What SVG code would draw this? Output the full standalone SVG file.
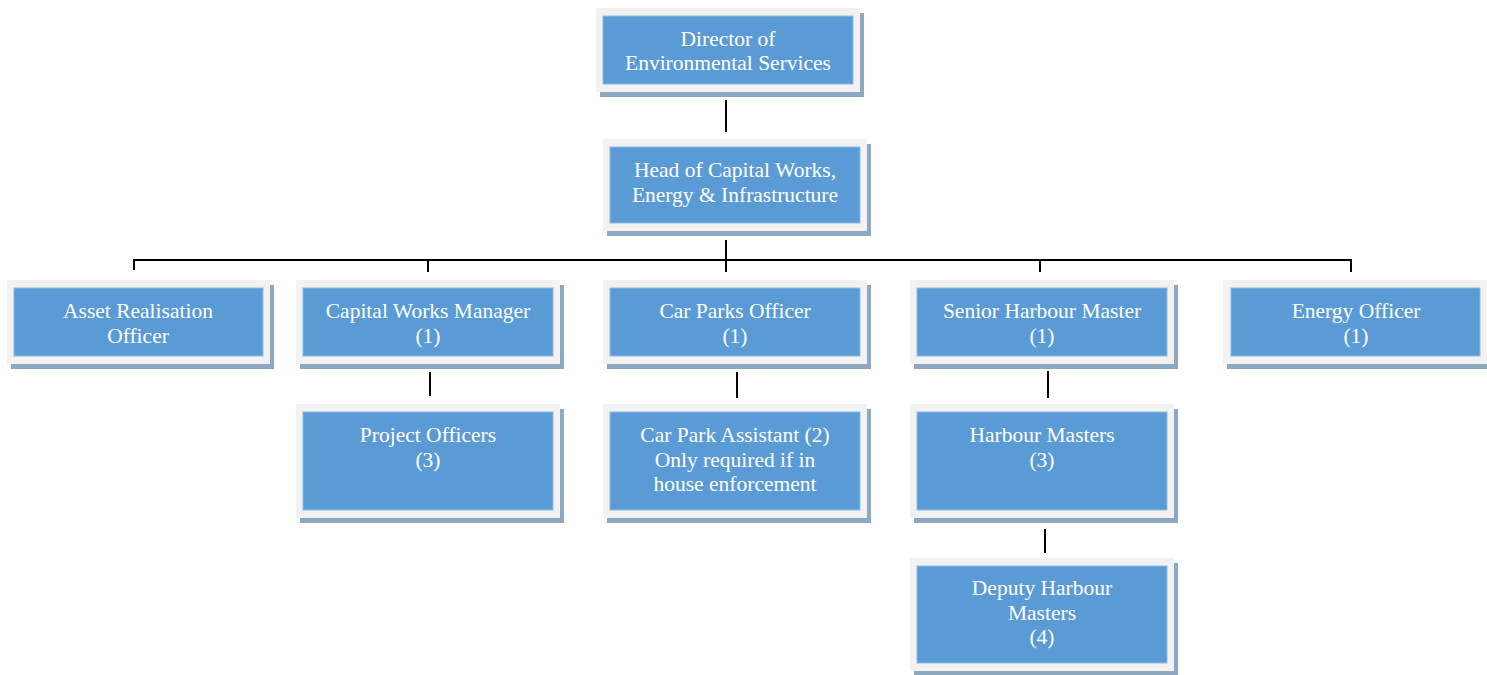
<svg xmlns="http://www.w3.org/2000/svg" width="1487" height="675" viewBox="0 0 1487 675">
  <style>
    .shadow { fill: #8fa8c2; }
    .frame { fill: #f2f2f2; }
    .box { fill: #5b9bd5; stroke: #8dbbe4; stroke-width: 1; }
    .label { font-family: "Liberation Serif", "Times New Roman", serif; font-size: 21.5px; fill: #ffffff; text-anchor: middle; }
    .conn { stroke: #000000; stroke-width: 2; fill: none; }
  </style>

  <!-- connectors -->
  <g id="connectors">
    <line class="conn" x1="726" y1="100" x2="726" y2="132"/>
    <line class="conn" x1="726" y1="240" x2="726" y2="272"/>
    <polyline class="conn" points="134,270 134,260 1351,260 1351,272"/>
    <line class="conn" x1="428" y1="260" x2="428" y2="272"/>
    <line class="conn" x1="1040" y1="260" x2="1040" y2="272"/>
    <line class="conn" x1="430" y1="372" x2="430" y2="396"/>
    <line class="conn" x1="737" y1="372" x2="737" y2="398"/>
    <line class="conn" x1="1048" y1="371" x2="1048" y2="398"/>
    <line class="conn" x1="1045" y1="529" x2="1045" y2="553"/>
  </g>

  <!-- Director -->
  <g id="director">
    <rect class="shadow" x="600" y="13" width="264" height="84"/>
    <rect class="frame" x="596" y="8" width="264" height="84"/>
    <rect class="box" x="603" y="16" width="250" height="68"/>
    <text class="label" x="728" y="46">Director of</text>
    <text class="label" x="728" y="70">Environmental Services</text>
  </g>

  <!-- Head of Capital Works -->
  <g id="head">
    <rect class="shadow" x="607" y="144" width="264" height="92"/>
    <rect class="frame" x="603" y="139" width="264" height="92"/>
    <rect class="box" x="610" y="147" width="250" height="76"/>
    <text class="label" x="735" y="177">Head of Capital Works,</text>
    <text class="label" x="735" y="202">Energy &amp; Infrastructure</text>
  </g>

  <!-- Asset Realisation Officer -->
  <g id="asset">
    <rect class="shadow" x="11" y="285" width="263" height="84"/>
    <rect class="frame" x="7" y="280" width="263" height="84"/>
    <rect class="box" x="14" y="288" width="249" height="68"/>
    <text class="label" x="138" y="318">Asset Realisation</text>
    <text class="label" x="138" y="343">Officer</text>
  </g>

  <!-- Capital Works Manager -->
  <g id="capital-works">
    <rect class="shadow" x="300" y="285" width="264" height="84"/>
    <rect class="frame" x="296" y="280" width="264" height="84"/>
    <rect class="box" x="303" y="288" width="250" height="68"/>
    <text class="label" x="428" y="318">Capital Works Manager</text>
    <text class="label" x="428" y="343">(1)</text>
  </g>

  <!-- Car Parks Officer -->
  <g id="car-parks">
    <rect class="shadow" x="607" y="285" width="264" height="84"/>
    <rect class="frame" x="603" y="280" width="264" height="84"/>
    <rect class="box" x="610" y="288" width="250" height="68"/>
    <text class="label" x="735" y="318">Car Parks Officer</text>
    <text class="label" x="735" y="343">(1)</text>
  </g>

  <!-- Senior Harbour Master -->
  <g id="senior-harbour">
    <rect class="shadow" x="914" y="285" width="264" height="84"/>
    <rect class="frame" x="910" y="280" width="264" height="84"/>
    <rect class="box" x="917" y="288" width="250" height="68"/>
    <text class="label" x="1042" y="318">Senior Harbour Master</text>
    <text class="label" x="1042" y="343">(1)</text>
  </g>

  <!-- Energy Officer -->
  <g id="energy">
    <rect class="shadow" x="1227" y="285" width="264" height="84"/>
    <rect class="frame" x="1223" y="280" width="264" height="84"/>
    <rect class="box" x="1231" y="288" width="249" height="68"/>
    <text class="label" x="1356" y="318">Energy Officer</text>
    <text class="label" x="1356" y="343">(1)</text>
  </g>

  <!-- Project Officers -->
  <g id="project-officers">
    <rect class="shadow" x="300" y="409" width="264" height="114"/>
    <rect class="frame" x="296" y="404" width="264" height="114"/>
    <rect class="box" x="303" y="412" width="250" height="98"/>
    <text class="label" x="428" y="442">Project Officers</text>
    <text class="label" x="428" y="467">(3)</text>
  </g>

  <!-- Car Park Assistant -->
  <g id="car-park-assistant">
    <rect class="shadow" x="607" y="409" width="264" height="114"/>
    <rect class="frame" x="603" y="404" width="264" height="114"/>
    <rect class="box" x="610" y="412" width="250" height="98"/>
    <text class="label" x="735" y="442">Car Park Assistant (2)</text>
    <text class="label" x="735" y="467">Only required if in</text>
    <text class="label" x="735" y="491">house enforcement</text>
  </g>

  <!-- Harbour Masters -->
  <g id="harbour-masters">
    <rect class="shadow" x="914" y="409" width="264" height="114"/>
    <rect class="frame" x="910" y="404" width="264" height="114"/>
    <rect class="box" x="917" y="412" width="250" height="98"/>
    <text class="label" x="1042" y="442">Harbour Masters</text>
    <text class="label" x="1042" y="467">(3)</text>
  </g>

  <!-- Deputy Harbour Masters -->
  <g id="deputy-harbour-masters">
    <rect class="shadow" x="914" y="563" width="264" height="113"/>
    <rect class="frame" x="910" y="558" width="264" height="113"/>
    <rect class="box" x="917" y="566" width="250" height="97"/>
    <text class="label" x="1042" y="595">Deputy Harbour</text>
    <text class="label" x="1042" y="620">Masters</text>
    <text class="label" x="1042" y="644">(4)</text>
  </g>
</svg>
